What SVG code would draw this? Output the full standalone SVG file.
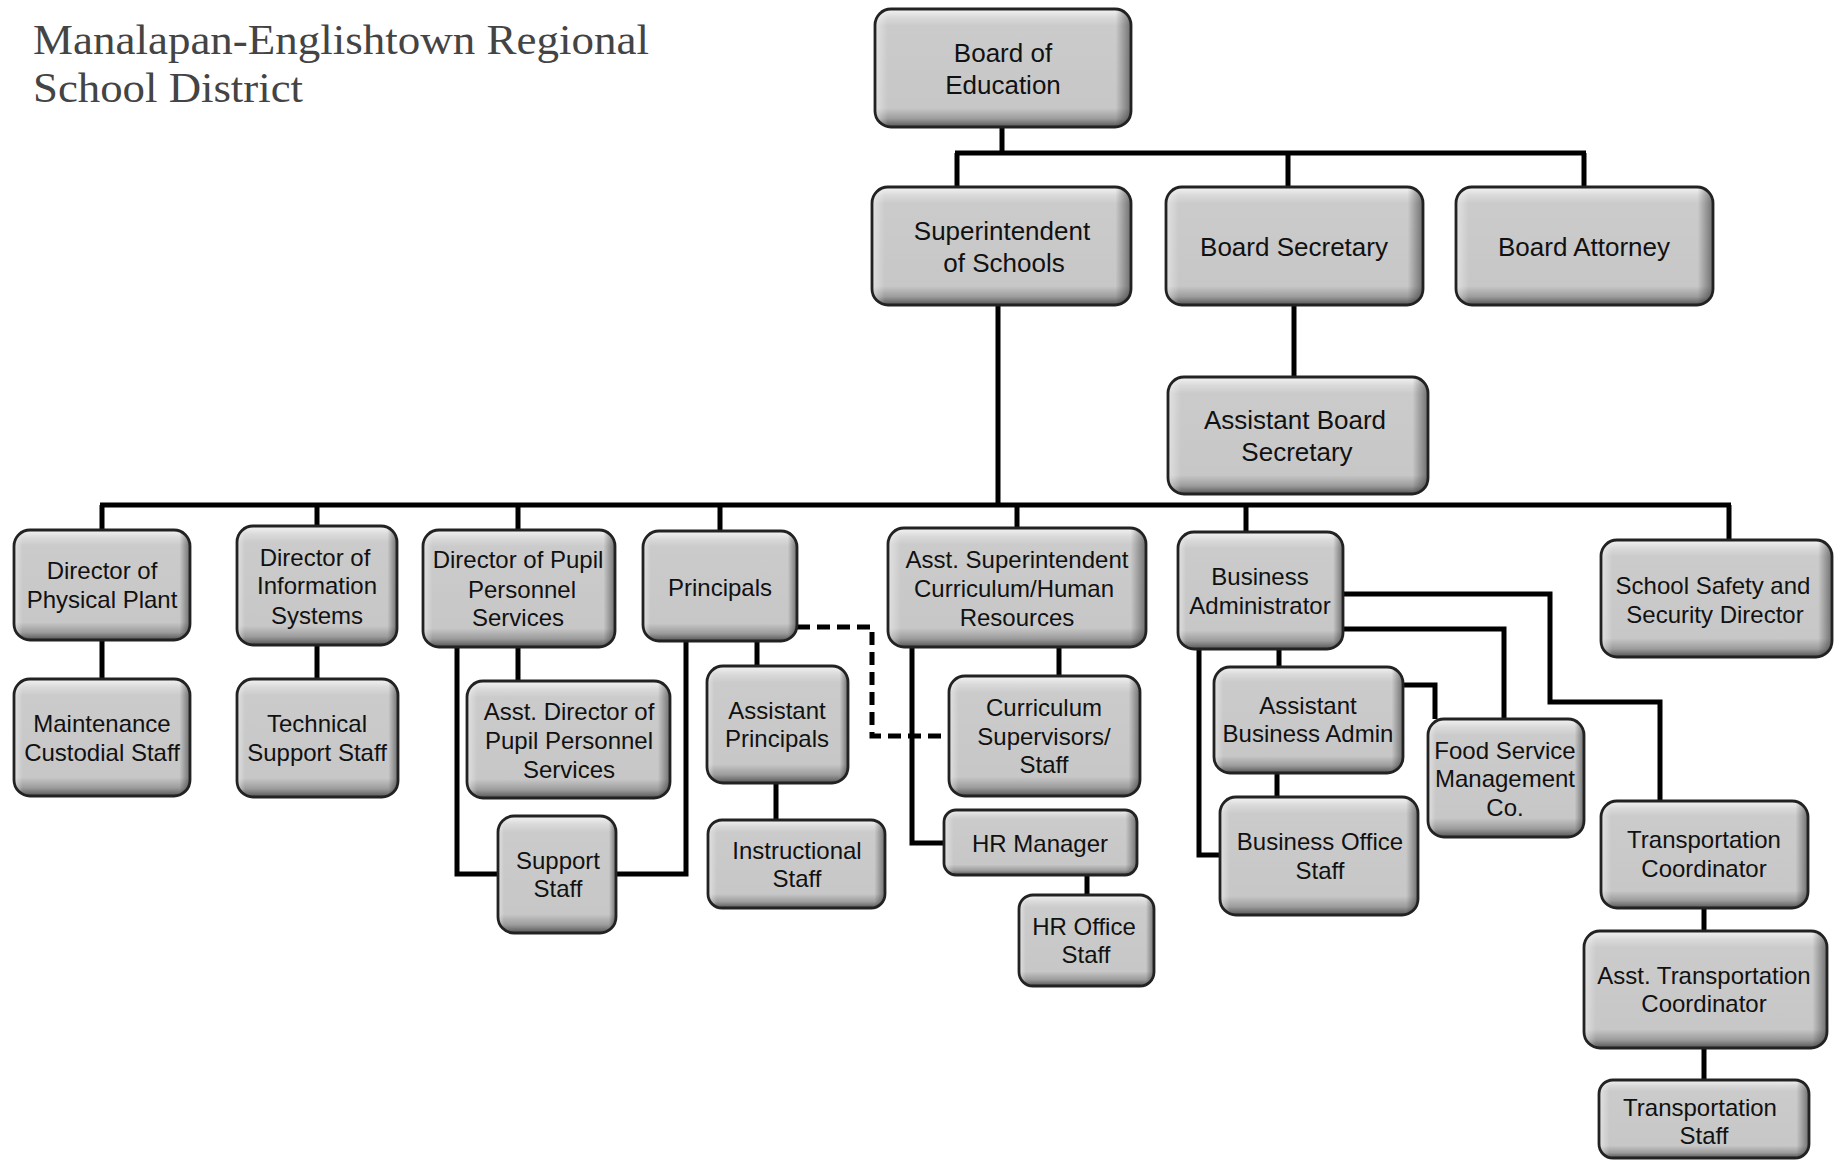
<svg xmlns="http://www.w3.org/2000/svg" width="1841" height="1160" viewBox="0 0 1841 1160">
<defs>
<linearGradient id="gv" x1="0" y1="0" x2="0" y2="1">
<stop offset="0" stop-color="#f4f4f4"/>
<stop offset="0.07" stop-color="#dadada"/>
<stop offset="0.14" stop-color="#cbcbcb"/>
<stop offset="0.84" stop-color="#c7c7c7"/>
<stop offset="0.93" stop-color="#9c9c9c"/>
<stop offset="1" stop-color="#555"/>
</linearGradient>
<linearGradient id="gh" x1="0" y1="0" x2="1" y2="0">
<stop offset="0" stop-color="#fff" stop-opacity="0.45"/>
<stop offset="0.05" stop-color="#fff" stop-opacity="0"/>
<stop offset="0.94" stop-color="#000" stop-opacity="0"/>
<stop offset="1" stop-color="#000" stop-opacity="0.45"/>
</linearGradient>
</defs>
<style>
.b{fill:url(#gv)}
.o{fill:url(#gh);stroke:#222;stroke-width:2.8}
.t{font-family:"Liberation Sans",Arial,sans-serif;font-size:24px;fill:#111;text-anchor:middle}
.t2{font-size:26px}
.c{fill:none;stroke:#000;stroke-width:5}
.d{stroke-dasharray:13 7}
.title{font-family:"Liberation Serif","Times New Roman",serif;font-size:43px;fill:#444}
</style>
<text class="title" x="33" y="54" textLength="616" lengthAdjust="spacingAndGlyphs">Manalapan-Englishtown Regional</text>
<text class="title" x="33" y="102" textLength="270" lengthAdjust="spacingAndGlyphs">School District</text>
<g id="connectors">
<path class="c" d="M1002 127V153M955 153H1586M957 153V187M1288 153V187M1584 153V187"/>
<path class="c" d="M1294 305V377"/>
<path class="c" d="M998 305V505M100 505H1731M102 505V530M317 505V526M518 505V530M720 505V531M1017 505V528M1246 505V532M1729 505V540"/>
<path class="c" d="M102 640V679M317 645V679M518 647V681"/>
<path class="c" d="M457 647V874H498M686 641V874H616"/>
<path class="c" d="M757 641V666M776 783V820"/>
<path class="c d" d="M797 627H872V736H949"/>
<path class="c" d="M1059 647V676M912 647V843H944M1087 875V895"/>
<path class="c" d="M1279 649V667M1277 773V797M1199 649V855H1220"/>
<path class="c" d="M1343 629H1504V719M1403 685H1435V719M1343 594H1550V702H1660V801"/>
<path class="c" d="M1704 908V931M1704 1048V1080"/>
</g>
<g id="n-board"><rect class="b" x="875" y="9" width="256" height="118" rx="16"/><rect class="o" x="875" y="9" width="256" height="118" rx="16"/><text class="t t2" x="1003" y="62">Board of</text><text class="t t2" x="1003" y="94">Education</text></g>
<g id="n-super"><rect class="b" x="872" y="187" width="259" height="118" rx="16"/><rect class="o" x="872" y="187" width="259" height="118" rx="16"/><text class="t t2" x="1002" y="240">Superintendent</text><text class="t t2" x="1004" y="272">of Schools</text></g>
<g id="n-bsec"><rect class="b" x="1166" y="187" width="257" height="118" rx="16"/><rect class="o" x="1166" y="187" width="257" height="118" rx="16"/><text class="t t2" x="1294" y="256">Board Secretary</text></g>
<g id="n-batt"><rect class="b" x="1456" y="187" width="257" height="118" rx="16"/><rect class="o" x="1456" y="187" width="257" height="118" rx="16"/><text class="t t2" x="1584" y="256">Board Attorney</text></g>
<g id="n-absec"><rect class="b" x="1168" y="377" width="260" height="117" rx="16"/><rect class="o" x="1168" y="377" width="260" height="117" rx="16"/><text class="t t2" x="1295" y="429">Assistant Board</text><text class="t t2" x="1297" y="461">Secretary</text></g>
<g id="n-dpp"><rect class="b" x="14" y="530" width="176" height="110" rx="16"/><rect class="o" x="14" y="530" width="176" height="110" rx="16"/><text class="t" x="102" y="579">Director of</text><text class="t" x="102" y="608">Physical Plant</text></g>
<g id="n-dis"><rect class="b" x="237" y="526" width="160" height="119" rx="16"/><rect class="o" x="237" y="526" width="160" height="119" rx="16"/><text class="t" x="315" y="566">Director of</text><text class="t" x="317" y="594">Information</text><text class="t" x="317" y="624">Systems</text></g>
<g id="n-dpps"><rect class="b" x="423" y="530" width="192" height="117" rx="16"/><rect class="o" x="423" y="530" width="192" height="117" rx="16"/><text class="t" x="518" y="568">Director of Pupil</text><text class="t" x="522" y="598">Personnel</text><text class="t" x="518" y="626">Services</text></g>
<g id="n-prin"><rect class="b" x="643" y="531" width="154" height="110" rx="16"/><rect class="o" x="643" y="531" width="154" height="110" rx="16"/><text class="t" x="720" y="596">Principals</text></g>
<g id="n-asc"><rect class="b" x="888" y="528" width="258" height="119" rx="16"/><rect class="o" x="888" y="528" width="258" height="119" rx="16"/><text class="t" x="1017" y="568">Asst. Superintendent</text><text class="t" x="1014" y="597">Curriculum/Human</text><text class="t" x="1017" y="626">Resources</text></g>
<g id="n-ba"><rect class="b" x="1178" y="532" width="165" height="117" rx="16"/><rect class="o" x="1178" y="532" width="165" height="117" rx="16"/><text class="t" x="1260" y="585">Business</text><text class="t" x="1260" y="614">Administrator</text></g>
<g id="n-ssd"><rect class="b" x="1601" y="540" width="231" height="117" rx="16"/><rect class="o" x="1601" y="540" width="231" height="117" rx="16"/><text class="t" x="1713" y="594">School Safety and</text><text class="t" x="1715" y="623">Security Director</text></g>
<g id="n-mcs"><rect class="b" x="14" y="679" width="176" height="117" rx="16"/><rect class="o" x="14" y="679" width="176" height="117" rx="16"/><text class="t" x="102" y="732">Maintenance</text><text class="t" x="102" y="761">Custodial Staff</text></g>
<g id="n-tss"><rect class="b" x="237" y="679" width="161" height="118" rx="16"/><rect class="o" x="237" y="679" width="161" height="118" rx="16"/><text class="t" x="317" y="732">Technical</text><text class="t" x="317" y="761">Support Staff</text></g>
<g id="n-adpp"><rect class="b" x="467" y="681" width="203" height="117" rx="16"/><rect class="o" x="467" y="681" width="203" height="117" rx="16"/><text class="t" x="569" y="720">Asst. Director of</text><text class="t" x="569" y="749">Pupil Personnel</text><text class="t" x="569" y="778">Services</text></g>
<g id="n-ss"><rect class="b" x="498" y="816" width="118" height="117" rx="16"/><rect class="o" x="498" y="816" width="118" height="117" rx="16"/><text class="t" x="558" y="869">Support</text><text class="t" x="558" y="897">Staff</text></g>
<g id="n-ap"><rect class="b" x="707" y="666" width="141" height="117" rx="16"/><rect class="o" x="707" y="666" width="141" height="117" rx="16"/><text class="t" x="777" y="719">Assistant</text><text class="t" x="777" y="747">Principals</text></g>
<g id="n-is"><rect class="b" x="708" y="820" width="177" height="88" rx="14"/><rect class="o" x="708" y="820" width="177" height="88" rx="14"/><text class="t" x="797" y="859">Instructional</text><text class="t" x="797" y="887">Staff</text></g>
<g id="n-cs"><rect class="b" x="949" y="676" width="191" height="120" rx="16"/><rect class="o" x="949" y="676" width="191" height="120" rx="16"/><text class="t" x="1044" y="716">Curriculum</text><text class="t" x="1044" y="745">Supervisors/</text><text class="t" x="1044" y="773">Staff</text></g>
<g id="n-hrm"><rect class="b" x="944" y="810" width="193" height="65" rx="12"/><rect class="o" x="944" y="810" width="193" height="65" rx="12"/><text class="t" x="1040" y="852">HR Manager</text></g>
<g id="n-hro"><rect class="b" x="1019" y="895" width="135" height="91" rx="14"/><rect class="o" x="1019" y="895" width="135" height="91" rx="14"/><text class="t" x="1084" y="935">HR Office</text><text class="t" x="1086" y="963">Staff</text></g>
<g id="n-aba"><rect class="b" x="1214" y="667" width="189" height="106" rx="16"/><rect class="o" x="1214" y="667" width="189" height="106" rx="16"/><text class="t" x="1308" y="714">Assistant</text><text class="t" x="1308" y="742">Business Admin</text></g>
<g id="n-bos"><rect class="b" x="1220" y="797" width="198" height="118" rx="16"/><rect class="o" x="1220" y="797" width="198" height="118" rx="16"/><text class="t" x="1320" y="850">Business Office</text><text class="t" x="1320" y="879">Staff</text></g>
<g id="n-fsm"><rect class="b" x="1428" y="719" width="156" height="118" rx="16"/><rect class="o" x="1428" y="719" width="156" height="118" rx="16"/><text class="t" x="1505" y="759">Food Service</text><text class="t" x="1505" y="787">Management</text><text class="t" x="1505" y="816">Co.</text></g>
<g id="n-tc"><rect class="b" x="1601" y="801" width="207" height="107" rx="16"/><rect class="o" x="1601" y="801" width="207" height="107" rx="16"/><text class="t" x="1704" y="848">Transportation</text><text class="t" x="1704" y="877">Coordinator</text></g>
<g id="n-atc"><rect class="b" x="1584" y="931" width="243" height="117" rx="16"/><rect class="o" x="1584" y="931" width="243" height="117" rx="16"/><text class="t" x="1704" y="984">Asst. Transportation</text><text class="t" x="1704" y="1012">Coordinator</text></g>
<g id="n-ts"><rect class="b" x="1599" y="1080" width="210" height="78" rx="14"/><rect class="o" x="1599" y="1080" width="210" height="78" rx="14"/><text class="t" x="1700" y="1116">Transportation</text><text class="t" x="1704" y="1144">Staff</text></g>
</svg>
